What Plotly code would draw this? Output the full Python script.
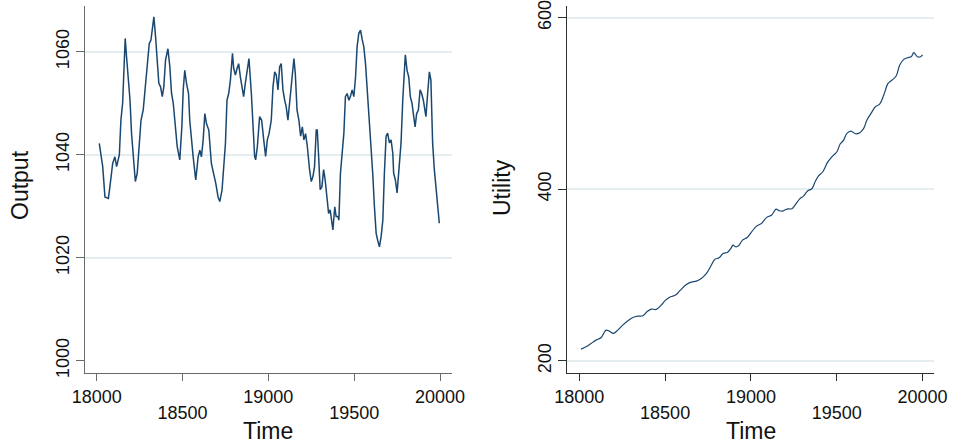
import plotly.graph_objects as go

# ---- data ----
output_time = [18015, 18023, 18035, 18048, 18068, 18077, 18093, 18106, 18116, 18132,
               18141, 18151, 18161, 18166, 18174, 18184, 18194, 18203, 18213, 18225,
               18236, 18248, 18258, 18271, 18287, 18296, 18306, 18316, 18325, 18333,
               18343, 18352, 18362, 18372, 18382, 18391, 18401, 18415, 18426, 18436,
               18446, 18455, 18469, 18484, 18496, 18504, 18513, 18523, 18535, 18542,
               18552, 18562, 18577, 18591, 18601, 18610, 18620, 18630, 18639, 18653,
               18668, 18682, 18694, 18707, 18717, 18730, 18740, 18750, 18759, 18769,
               18779, 18791, 18798, 18808, 18818, 18827, 18837, 18847, 18856, 18866,
               18876, 18887, 18901, 18911, 18920, 18926, 18936, 18949, 18961, 18973,
               18984, 18994, 19004, 19017, 19027, 19037, 19046, 19056, 19066, 19075,
               19085, 19095, 19104, 19114, 19124, 19134, 19143, 19149, 19157, 19167,
               19178, 19188, 19198, 19207, 19217, 19227, 19240, 19250, 19260, 19269,
               19279, 19285, 19292, 19302, 19312, 19322, 19331, 19341, 19351, 19360,
               19370, 19376, 19387, 19395, 19405, 19411, 19420, 19430, 19440, 19449,
               19459, 19469, 19478, 19488, 19498, 19508, 19517, 19527, 19537, 19547,
               19556, 19566, 19575, 19585, 19595, 19608, 19618, 19628, 19637, 19647,
               19657, 19667, 19676, 19686, 19695, 19705, 19715, 19725, 19730, 19740,
               19750, 19760, 19773, 19783, 19792, 19798, 19808, 19818, 19827, 19837,
               19847, 19855, 19864, 19874, 19884, 19893, 19903, 19913, 19918, 19928,
               19938, 19947, 19957, 19967, 19977, 19986, 19996]
output_value = [1042.2, 1040.3, 1037.7, 1031.8, 1031.5, 1033.8, 1038.3, 1039.6, 1037.7, 1040.0,
                1046.7, 1050.0, 1061.0, 1062.6, 1059.0, 1054.5, 1050.6, 1044.1, 1039.0, 1034.8,
                1036.4, 1042.2, 1046.7, 1048.7, 1054.5, 1059.0, 1061.6, 1062.3, 1064.2, 1066.8,
                1062.9, 1058.4, 1053.9, 1053.2, 1051.3, 1053.2, 1058.4, 1060.6, 1057.1, 1051.9,
                1050.0, 1046.7, 1041.6, 1039.0, 1045.4, 1052.6, 1056.4, 1053.9, 1051.9, 1046.7,
                1042.2, 1039.6, 1035.1, 1039.6, 1040.9, 1039.6, 1042.8, 1048.0, 1046.1, 1044.8,
                1038.3, 1036.4, 1034.4, 1031.8, 1030.9, 1033.1, 1037.0, 1042.2, 1050.6, 1051.9,
                1054.5, 1059.7, 1056.8, 1055.5, 1056.8, 1057.7, 1055.1, 1053.2, 1051.3, 1053.9,
                1056.4, 1058.7, 1051.9, 1044.8, 1039.7, 1039.0, 1041.6, 1047.4, 1046.7, 1042.9,
                1039.7, 1042.9, 1044.1, 1046.7, 1053.2, 1056.1, 1055.5, 1052.6, 1057.1, 1057.7,
                1052.6, 1050.6, 1049.3, 1046.7, 1050.6, 1053.9, 1057.7, 1058.7, 1055.8, 1048.7,
                1046.7, 1043.6, 1045.4, 1042.9, 1044.1, 1041.6, 1037.1, 1034.8, 1035.8, 1037.7,
                1044.8, 1044.8, 1040.3, 1033.2, 1033.8, 1037.1, 1035.1, 1031.3, 1028.6, 1029.3,
                1026.7, 1025.4, 1029.9, 1028.0, 1028.0, 1027.3, 1036.4, 1040.3, 1044.2, 1051.3,
                1051.9, 1050.6, 1051.3, 1052.6, 1051.3, 1055.1, 1061.0, 1063.6, 1064.2, 1062.3,
                1061.0, 1057.7, 1053.2, 1050.0, 1042.9, 1036.4, 1029.9, 1024.7, 1023.4, 1022.1,
                1024.1, 1027.3, 1036.4, 1043.6, 1044.2, 1042.3, 1042.9, 1040.3, 1036.4, 1035.1,
                1032.6, 1037.1, 1042.3, 1050.6, 1057.1, 1059.4, 1056.4, 1055.1, 1051.3, 1050.0,
                1047.4, 1045.4, 1048.0, 1048.7, 1052.6, 1051.9, 1050.6, 1048.7, 1047.4, 1051.9,
                1056.1, 1054.5, 1042.3, 1037.1, 1033.2, 1029.9, 1026.7]

utility_time = [18010, 18039, 18068, 18097, 18127, 18156, 18175, 18199, 18224, 18253,
                18283, 18312, 18341, 18370, 18394, 18419, 18448, 18477, 18503, 18532,
                18561, 18589, 18624, 18653, 18682, 18711, 18741, 18764, 18789, 18815,
                18838, 18863, 18883, 18896, 18910, 18926, 18951, 18978, 19004, 19033,
                19062, 19092, 19121, 19146, 19166, 19185, 19209, 19238, 19257, 19283,
                19306, 19331, 19355, 19374, 19394, 19419, 19446, 19472, 19501, 19520,
                19540, 19559, 19583, 19608, 19634, 19657, 19676, 19700, 19725, 19750,
                19774, 19799, 19823, 19846, 19867, 19891, 19920, 19934, 19949, 19969,
                19988, 20000]
utility_value = [213.6, 216.3, 220.2, 224.1, 227.2, 235.8, 234.6, 231.9, 235.8, 241.6,
                 246.6, 250.5, 252.1, 252.5, 257.1, 260.3, 259.9, 264.9, 270.7, 274.6,
                 276.6, 282.4, 289.0, 291.7, 292.9, 296.0, 301.8, 309.6, 318.2, 320.1,
                 325.2, 326.3, 331.0, 334.9, 333.0, 333.7, 340.7, 343.8, 350.4, 357.0,
                 360.2, 367.2, 369.9, 376.9, 374.9, 374.5, 376.9, 377.3, 381.5, 388.5,
                 392.0, 398.3, 400.6, 408.7, 415.7, 420.4, 431.3, 437.9, 443.7, 452.7,
                 457.3, 465.1, 467.8, 464.7, 465.9, 470.9, 480.7, 488.4, 496.2, 499.3,
                 509.8, 523.4, 527.3, 532.0, 544.8, 551.4, 553.7, 554.5, 559.2, 554.5,
                 554.5, 556.5]

x_ticks_row1 = [18000, 19000, 20000]
x_ticks_row2 = [18500, 19500]
x_ticks_all = [18000, 18500, 19000, 19500, 20000]
output_ticks = [1000, 1020, 1040, 1060]
output_grid = [1020, 1040, 1060]
utility_ticks = [200, 400, 600]

W, H = 954, 445
ML, MR, MT, MB = 85, 20, 6, 72
PW, PH = W - ML - MR, H - MT - MB
NAVY = "#1a476f"
GRID = "#e4edf0"
FONT = "Liberation Sans, Arial, sans-serif"
TXT = "#111111"


def px_x(p):
    return (p - ML) / PW


def px_y(p):
    return 1 - (p - MT) / PH


left_dom = [0, px_x(452)]
right_dom = [px_x(567.3), 1]
left_xr = [17931.8, 20069.9]
right_xr = [17930.1, 20066.6]
left_yr = [997.6, 1068.9]
right_yr = [185.8, 613.6]

fig = go.Figure()
fig.add_trace(go.Scatter(x=output_time, y=output_value, mode="lines",
                         line=dict(color=NAVY, width=1.5), xaxis="x", yaxis="y",
                         showlegend=False, hoverinfo="x+y"))
fig.add_trace(go.Scatter(x=utility_time, y=utility_value, mode="lines",
                         line=dict(color=NAVY, width=1.2, shape="spline"),
                         xaxis="x2", yaxis="y2", showlegend=False, hoverinfo="x+y"))
# empty helper traces so that overlay axes get drawn
for xa, ya in [("x3", "y"), ("x4", "y2"), ("x", "y3")]:
    fig.add_trace(go.Scatter(x=[], y=[], xaxis=xa, yaxis=ya, showlegend=False))


def xaxis_main(domain, anchor, rng, col):
    return dict(domain=domain, anchor=anchor, range=rng, tickvals=x_ticks_all,
                ticktext=["18000", "", "19000", "", "20000"],
                ticks="outside", ticklen=7, tickwidth=1.2, tickcolor=col,
                showline=True, linecolor=col, linewidth=1.3, automargin=False,
                ticklabeloverflow="allow",
                showgrid=False, zeroline=False, tickfont=dict(size=18, color=TXT))


def xaxis_row2(domain, anchor, over, rng, col):
    return dict(domain=domain, anchor=anchor, overlaying=over, range=rng,
                tickvals=x_ticks_row2, ticktext=[str(v) for v in x_ticks_row2],
                ticks="outside", ticklen=7, tickwidth=1.2, tickcolor=col,
                ticklabelstandoff=16, showline=False, showgrid=False, zeroline=False,
                automargin=False, ticklabeloverflow="allow",
                tickfont=dict(size=18, color=TXT))


def yaxis_main(rng, anchor, ticks, col, grid):
    return dict(domain=[0, 1], anchor=anchor, range=rng, tickvals=ticks,
                ticks="outside", ticklen=8, tickwidth=1.2, tickcolor=col,
                showline=True, linecolor=col, linewidth=1.3, automargin=False,
                ticklabeloverflow="allow",
                showgrid=grid, gridcolor=GRID, gridwidth=1.5, zeroline=False,
                tickangle=-90, tickfont=dict(size=18, color=TXT))


def title_note(text, x, y, angle=0):
    return dict(text=text, x=px_x(x), y=px_y(y), xref="paper", yref="paper",
                xanchor="center", yanchor="middle", textangle=angle,
                showarrow=False, font=dict(size=23, color=TXT))


LCOL = "#6a6a6a"
RCOL = "#2e2e2e"

fig.update_layout(
    width=W, height=H,
    margin=dict(l=ML, r=MR, t=MT, b=MB, pad=0),
    paper_bgcolor="white", plot_bgcolor="white",
    font=dict(family=FONT),
    xaxis=xaxis_main(left_dom, "y", left_xr, LCOL),
    xaxis3=xaxis_row2(left_dom, "y", "x", left_xr, LCOL),
    yaxis=yaxis_main(left_yr, "x", output_ticks, LCOL, False),
    yaxis3=dict(domain=[0, 1], anchor="x", overlaying="y", range=left_yr,
                tickvals=output_grid, showticklabels=False, ticks="",
                showline=False, showgrid=True, gridcolor=GRID, gridwidth=1.5,
                zeroline=False, automargin=False),
    xaxis2=xaxis_main(right_dom, "y2", right_xr, RCOL),
    xaxis4=xaxis_row2(right_dom, "y2", "x2", right_xr, RCOL),
    yaxis2=yaxis_main(right_yr, "x2", utility_ticks, RCOL, True),
    annotations=[
        title_note("Output", 20, 185, -90),
        title_note("Utility", 502, 188, -90),
        title_note("Time", 268, 431),
        title_note("Time", 751, 431),
    ],
)

fig.write_html("out.html",
               config={"displayModeBar": False},
               post_script="document.body.style.margin='0';"
                           "document.body.style.overflow='hidden';")
